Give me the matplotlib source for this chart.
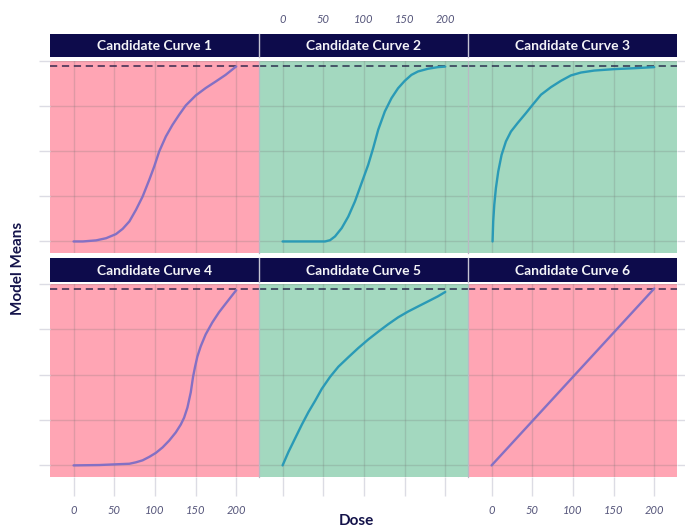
import matplotlib
matplotlib.use("Agg")
import matplotlib.pyplot as plt

# ---- data -------------------------------------------------------------
titles = ["Candidate Curve 1", "Candidate Curve 2", "Candidate Curve 3",
          "Candidate Curve 4", "Candidate Curve 5", "Candidate Curve 6"]

curve1_dose = [0, 11.4, 27.8, 40, 52.2, 60.4, 68.6, 76.7, 84.9, 93.1, 99.2,
               105.3, 113.5, 121.6, 129.8, 138, 150.2, 162.4, 174.7, 186.9, 200]
curve1_mean = [0.0, 0.0, 0.006, 0.018, 0.041, 0.070, 0.111, 0.175, 0.249, 0.342, 0.416,
               0.499, 0.582, 0.646, 0.702, 0.754, 0.809, 0.850, 0.886, 0.923, 0.970]

curve2_dose = [0, 52.2, 58.4, 64.5, 72.7, 80.8, 89, 97.1, 105.3, 111.4, 117.6,
               125.7, 133.9, 142, 150.2, 158.4, 166.5, 178.8, 191, 200]
curve2_mean = [0.0, 0.0, 0.007, 0.028, 0.074, 0.138, 0.222, 0.323, 0.425, 0.517, 0.619,
               0.720, 0.794, 0.849, 0.890, 0.923, 0.942, 0.957, 0.966, 0.969]

curve3_dose = [1.2, 2, 3.3, 5.3, 8.2, 12.3, 17.6, 23.8, 32, 42.2, 50.4,
               60.7, 73, 85.2, 97.5, 109.8, 126.2, 150.8, 175.4, 200]
curve3_mean = [0.0, 0.111, 0.203, 0.295, 0.388, 0.480, 0.554, 0.609, 0.656, 0.711, 0.757,
               0.813, 0.855, 0.890, 0.920, 0.936, 0.947, 0.955, 0.960, 0.966]

curve4_dose = [0, 31.8, 52.2, 68.6, 76.7, 84.9, 93.1, 101.2, 109.4, 117.6, 125.7,
               131.8, 135.9, 140, 144.1, 146.9, 149.4, 152.2, 156.3, 162.4, 170.6,
               178.8, 186.9, 195.1, 200]
curve4_mean = [0.0, 0.002, 0.006, 0.009, 0.017, 0.028, 0.047, 0.069, 0.099, 0.137, 0.182,
               0.225, 0.263, 0.319, 0.403, 0.488, 0.544, 0.600, 0.656, 0.722, 0.788,
               0.844, 0.891, 0.938, 0.966]

curve5_dose = [0, 7.3, 15.5, 23.7, 31.8, 40, 48.2, 58.4, 68.6, 80.8, 93.1,
               105.3, 117.6, 129.8, 142, 154.3, 166.5, 178.8, 191, 200]
curve5_mean = [0.0, 0.075, 0.150, 0.225, 0.294, 0.356, 0.422, 0.488, 0.544, 0.596, 0.647,
               0.694, 0.737, 0.778, 0.816, 0.848, 0.876, 0.904, 0.932, 0.956]

curve6_dose = [0, 200]
curve6_mean = [0.0, 0.975]

doses = [curve1_dose, curve2_dose, curve3_dose, curve4_dose, curve5_dose, curve6_dose]
means = [curve1_mean, curve2_mean, curve3_mean, curve4_mean, curve5_mean, curve6_mean]
passes = [False, True, True, False, True, False]

max_effect = 0.975
x_ticks = [0, 50, 100, 150, 200]
y_ticks = [0, 0.25, 0.5, 0.75, 1.0]

# ---- style ------------------------------------------------------------
NAVY = "#0d0b4b"
PINK = "#ffa5b4"
GREEN = "#a3d8bf"
PURPLE = "#8470c4"
TEAL = "#2a9ab6"
TICK_TXT = "#55557a"
TICK_LINE = "#dcdce4"

plt.rcParams["font.family"] = ["Lato", "DejaVu Sans"]

W, H = 685, 529
fig = plt.figure(figsize=(W / 100, H / 100), dpi=100)


def frac(x0, y0, x1, y1):
    return [x0 / W, 1 - y1 / H, (x1 - x0) / W, (y1 - y0) / H]


cols = [(50, 259), (259, 468), (468, 677)]
rows = [dict(strip=(34, 57), panel=(61, 253)),
        dict(strip=(258, 282), panel=(284, 477))]

for i in range(6):
    r, c = divmod(i, 3)
    x0, x1 = cols[c]
    py0, py1 = rows[r]["panel"]
    sy0, sy1 = rows[r]["strip"]

    ax = fig.add_axes(frac(x0, py0, x1, py1))
    ax.set_facecolor(GREEN if passes[i] else PINK)
    ax.set_xlim(-29, 228)
    ax.set_ylim(-0.064, 0.993)
    ax.set_xticks(x_ticks)
    ax.set_yticks(y_ticks)
    ax.grid(True, color="#6f6f6f", alpha=0.22, lw=1.0)
    ax.set_axisbelow(True)
    for s in ax.spines.values():
        s.set_visible(False)
    if c > 0:
        ax.spines["left"].set_visible(True)
        ax.spines["left"].set_color("#b9b9c4")
        ax.spines["left"].set_linewidth(0.9)

    ax.plot(doses[i], means[i], color=TEAL if passes[i] else PURPLE,
            lw=1.7, solid_capstyle="round", solid_joinstyle="round", zorder=3)
    ax.axhline(max_effect, color="#1c1a40", alpha=0.75, lw=1.3,
               ls=(0, (4, 2.6)), zorder=2)

    # ticks and tick labels
    ax.tick_params(axis="both", which="both", colors=TICK_LINE,
                   labelcolor=TICK_TXT, labelsize=8, width=1.0)
    ax.tick_params(axis="x", bottom=False, labelbottom=False)
    ax.tick_params(axis="y", left=False, labelleft=False)
    if r == 1:
        ax.tick_params(axis="x", bottom=True, length=14, pad=6,
                       labelbottom=(c != 1))
    if i == 1:
        ax.tick_params(axis="x", top=True, labeltop=True, length=0, pad=26)
    if c == 0:
        ax.tick_params(axis="y", left=True, length=8)
    if c == 2:
        ax.tick_params(axis="y", right=True, length=7)
    for lab in ax.get_xticklabels():
        lab.set_fontstyle("italic")

    # facet strip
    sax = fig.add_axes(frac(x0, sy0, x1, sy1))
    sax.set_facecolor(NAVY)
    sax.set_xticks([])
    sax.set_yticks([])
    for s in sax.spines.values():
        s.set_visible(False)
    if c > 0:
        sax.spines["left"].set_visible(True)
        sax.spines["left"].set_color("#c5c5d4")
        sax.spines["left"].set_linewidth(1.0)
    sax.text(0.5, 0.47, titles[i], transform=sax.transAxes, ha="center",
             va="center", color="#f4f4f8", fontsize=10, fontweight="bold")

fig.text(18 / W, 1 - 268 / H, "Model Means", rotation=90, ha="center",
         va="center", color="#14134a", fontsize=11, fontweight="bold")
fig.text(356 / W, 1 - 521 / H, "Dose", ha="center", va="center",
         color="#14134a", fontsize=11, fontweight="bold")

fig.savefig("out.png", dpi=100, facecolor="white")
